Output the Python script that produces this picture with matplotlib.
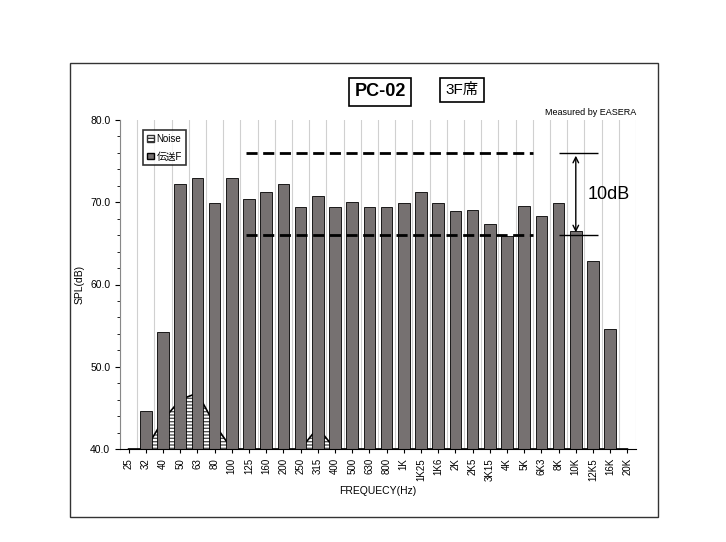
import matplotlib
matplotlib.use("Agg")
import matplotlib.pyplot as plt
from matplotlib.patches import Rectangle, Patch
import numpy as np

plt.rcParams['font.family'] = ['Liberation Sans', 'Noto Sans CJK JP', 'DejaVu Sans']

cats = ["25","32","40","50","63","80","100","125","160","200","250","315","400","500","630","800",
        "1K","1K25","1K6","2K","2K5","3K15","4K","5K","6K3","8K","10K","12K5","16K","20K"]
transfer = [0,44.6,54.2,72.2,73.0,69.9,73.0,70.4,71.2,72.2,69.4,70.8,69.4,70.0,69.4,69.4,
            69.9,71.2,69.9,68.9,69.1,67.4,65.9,69.6,68.3,69.9,66.5,62.9,54.6,0]
noise = [40,40,43.5,46.0,46.8,43.0,40,40,40,40,40,42.6,40,40,40,40,
         40,40,40,40,40,40,40,40,40,40,40,40,40,40]

fig = plt.figure(figsize=(7.26,5.42), dpi=100)
fig.patches.append(Rectangle((70/726, 1-517/542), 588/726, 454/542, transform=fig.transFigure,
                             fill=False, edgecolor='#333333', lw=1))
ax = fig.add_axes([120/726, 1-449/542, 516/726, 329/542])
x = np.arange(len(cats))
ax.fill_between(x, 40, noise, facecolor='white', hatch='-----', edgecolor='#555555', lw=0, zorder=1)
ax.plot(x, noise, color='black', lw=1.2, zorder=1.5)
ax.bar(x, transfer, width=0.68, bottom=0, color='#767171', edgecolor='black', lw=0.6, zorder=2)
ax.set_ylim(40, 80)
ax.set_xlim(-0.5, len(cats)-0.5)
ax.set_xticks(x)
ax.set_xticklabels(cats, rotation=90, fontsize=7)
ax.set_yticks([40,50,60,70,80])
ax.set_yticklabels(["40.0","50.0","60.0","70.0","80.0"], fontsize=7.5)
ax.set_yticks(np.arange(40,80,2), minor=True)
for xv in np.arange(-0.5, len(cats), 1):
    ax.axvline(xv, color='#d0d0d0', lw=0.8, zorder=0)
for s in ['top','right']:
    ax.spines[s].set_visible(False)
ax.spines['left'].set_color('#888888')
ax.set_xlabel("FREQUECY(Hz)", fontsize=7.5)
ax.set_ylabel("SPL(dB)", fontsize=7.5)
ax.tick_params(axis='x', length=3)
ax.hlines([76, 66], 6.8, 23.5, colors='black', linestyles=(0,(4,2)), lw=2, zorder=3)
ax.hlines([76, 66], 25.0, 27.3, colors='black', lw=1, zorder=3)
ax.annotate("", xy=(26.0, 66), xytext=(26.0, 76), arrowprops=dict(arrowstyle='<->', lw=1, color='black'), zorder=4)
ax.text(26.7, 71, "10dB", fontsize=13, va='center', ha='left', zorder=4)
ax.text(1.0, 1.01, "Measured by EASERA", transform=ax.transAxes, fontsize=6.5, ha='right', va='bottom')
fig.text(380/726, 1-92/542, "PC-02", fontsize=13, fontweight='bold', ha='center', va='center',
         bbox=dict(boxstyle='square,pad=0.3', fc='white', ec='black', lw=1.2))
fig.text(462/726, 1-90/542, "3F席", fontsize=11, ha='center', va='center',
         bbox=dict(boxstyle='square,pad=0.35', fc='white', ec='black', lw=1.2))
leg = ax.legend(handles=[Patch(facecolor='white', hatch='-----', edgecolor='#333'),
                         Patch(facecolor='#767171', edgecolor='black')],
                labels=["Noise","伝送F"], loc='upper left', bbox_to_anchor=(0.035,0.985),
                fontsize=7, frameon=True, fancybox=False, edgecolor='black',
                handlelength=0.7, handleheight=0.7, handletextpad=0.3, labelspacing=0.8)
leg.get_frame().set_linewidth(1.2)
fig.savefig("out.png", dpi=100)
